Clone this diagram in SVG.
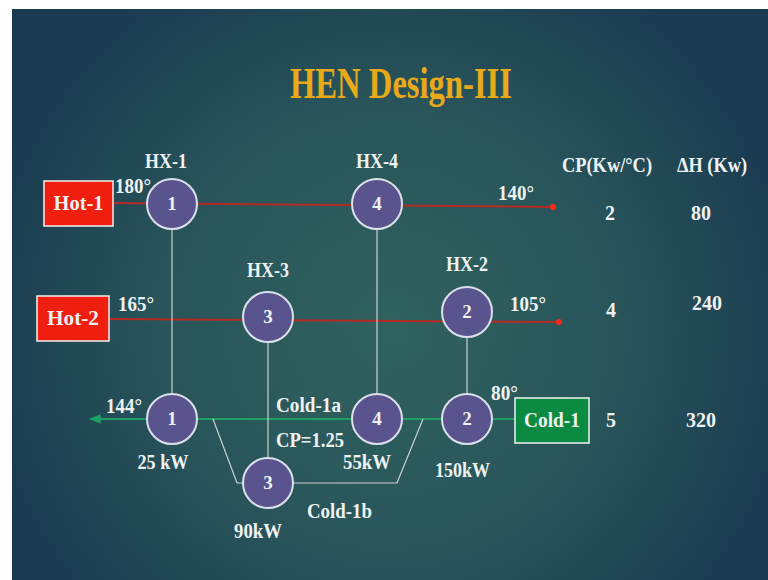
<svg xmlns="http://www.w3.org/2000/svg" width="768" height="580" viewBox="0 0 768 580">
<defs>
<radialGradient id="bg" cx="390" cy="330" r="420" gradientUnits="userSpaceOnUse">
<stop offset="0" stop-color="#30625f"/>
<stop offset="0.55" stop-color="#28545a"/>
<stop offset="1" stop-color="#1a3a50"/>
</radialGradient>
<marker id="arrG" viewBox="0 0 10 10" refX="9" refY="5" markerWidth="6" markerHeight="6" orient="auto">
<path d="M0,1 L10,5 L0,9 z" fill="#1fa060"/>
</marker>
</defs>
<style>
text{font-family:"Liberation Serif","Times New Roman",serif;font-weight:bold;fill:#eef2f2}
.lbl{font-size:20px}
.num{font-size:19px;text-anchor:middle}
.mid{text-anchor:middle}
.hx circle{fill:#59548e;stroke:#dde0ea;stroke-width:2}
.box{stroke:#f2f2f2;stroke-width:1.5}
.hot{stroke:#b52a22;stroke-width:2;fill:none}
.cold{stroke:#1fa060;stroke-width:2;fill:none}
.v{stroke:#c9d2d2;stroke-width:1.2;fill:none}
</style>
<rect x="0" y="0" width="768" height="580" fill="#ffffff"/>
<rect x="12" y="9" width="756" height="571" fill="url(#bg)"/>
<text x="401" y="98" class="mid" style="font-size:44px;fill:#e9aa1a" textLength="222" lengthAdjust="spacingAndGlyphs">HEN Design-III</text>

<g id="connectors">
<line class="hot" x1="113" y1="203" x2="553" y2="207"/>
<circle cx="553" cy="207" r="3" fill="#ff2a1a"/>
<line class="hot" x1="109" y1="319" x2="559" y2="322"/>
<circle cx="559" cy="322" r="3" fill="#ff2a1a"/>
<line class="cold" x1="515" y1="419" x2="90" y2="419" marker-end="url(#arrG)"/>
<polyline class="v" points="213,419 237,483 243,483"/>
<polyline class="v" points="293,483 397,483 423,419"/>
<line class="v" x1="172" y1="230" x2="172" y2="394"/>
<line class="v" x1="377" y1="230" x2="377" y2="394"/>
<line class="v" x1="268" y1="342" x2="268" y2="458"/>
<line class="v" x1="467" y1="338" x2="467" y2="394"/>
</g>

<g id="hot1"><rect class="box" x="44" y="181" width="69" height="45" fill="#f01e0e"/><text x="78.5" y="210" class="mid" style="font-size:20px" textLength="50" lengthAdjust="spacingAndGlyphs">Hot-1</text></g>
<g id="hot2"><rect class="box" x="37" y="296" width="72" height="45" fill="#f01e0e"/><text x="73" y="325" class="mid" style="font-size:20px" textLength="52" lengthAdjust="spacingAndGlyphs">Hot-2</text></g>
<g id="cold1"><rect class="box" x="515" y="398" width="74" height="45" fill="#0b8a42"/><text x="552" y="427" class="mid" style="font-size:20px" textLength="56" lengthAdjust="spacingAndGlyphs">Cold-1</text></g>

<g id="hx1-top" class="hx"><circle cx="172" cy="204" r="25"/><text x="172" y="210" class="num">1</text></g>
<g id="hx4-top" class="hx"><circle cx="377" cy="204" r="25"/><text x="377" y="210" class="num">4</text></g>
<g id="hx3-top" class="hx"><circle cx="268" cy="317" r="25"/><text x="268" y="323" class="num">3</text></g>
<g id="hx2-top" class="hx"><circle cx="467" cy="312" r="25"/><text x="467" y="318" class="num">2</text></g>
<g id="hx1-bot" class="hx"><circle cx="172" cy="419" r="25"/><text x="172" y="425" class="num">1</text></g>
<g id="hx4-bot" class="hx"><circle cx="377" cy="419" r="25"/><text x="377" y="425" class="num">4</text></g>
<g id="hx2-bot" class="hx"><circle cx="467" cy="419" r="25"/><text x="467" y="425" class="num">2</text></g>
<g id="hx3-bot" class="hx"><circle cx="268" cy="483" r="25"/><text x="268" y="489" class="num">3</text></g>

<g id="labels">
<text x="166" y="168" class="lbl mid" textLength="42" lengthAdjust="spacingAndGlyphs">HX-1</text>
<text x="377" y="168" class="lbl mid" textLength="42" lengthAdjust="spacingAndGlyphs">HX-4</text>
<text x="268" y="277" class="lbl mid" textLength="42" lengthAdjust="spacingAndGlyphs">HX-3</text>
<text x="467" y="271" class="lbl mid" textLength="42" lengthAdjust="spacingAndGlyphs">HX-2</text>
<text x="115" y="193" class="lbl" textLength="36" lengthAdjust="spacingAndGlyphs">180°</text>
<text x="498" y="200" class="lbl" textLength="36" lengthAdjust="spacingAndGlyphs">140°</text>
<text x="118" y="311" class="lbl" textLength="36" lengthAdjust="spacingAndGlyphs">165°</text>
<text x="510" y="311" class="lbl" textLength="36" lengthAdjust="spacingAndGlyphs">105°</text>
<text x="106" y="413" class="lbl" textLength="36" lengthAdjust="spacingAndGlyphs">144°</text>
<text x="491" y="400" class="lbl" textLength="27" lengthAdjust="spacingAndGlyphs">80°</text>
<text x="163" y="469" class="lbl mid" textLength="51" lengthAdjust="spacingAndGlyphs">25 kW</text>
<text x="276" y="412" class="lbl" textLength="65" lengthAdjust="spacingAndGlyphs">Cold-1a</text>
<text x="276" y="447" class="lbl" textLength="68" lengthAdjust="spacingAndGlyphs">CP=1.25</text>
<text x="343" y="469" class="lbl" textLength="48" lengthAdjust="spacingAndGlyphs">55kW</text>
<text x="435" y="477" class="lbl" textLength="55" lengthAdjust="spacingAndGlyphs">150kW</text>
<text x="307" y="518" class="lbl" textLength="65" lengthAdjust="spacingAndGlyphs">Cold-1b</text>
<text x="258" y="538" class="lbl mid" textLength="48" lengthAdjust="spacingAndGlyphs">90kW</text>
<text x="562" y="172" class="lbl" textLength="90" lengthAdjust="spacingAndGlyphs">CP(Kw/°C)</text>
<text x="677" y="172" class="lbl" textLength="70" lengthAdjust="spacingAndGlyphs">ΔH (Kw)</text>
<text x="610" y="220" class="lbl mid">2</text>
<text x="701" y="220" class="lbl mid">80</text>
<text x="611" y="317" class="lbl mid">4</text>
<text x="707" y="310" class="lbl mid">240</text>
<text x="611" y="427" class="lbl mid">5</text>
<text x="701" y="427" class="lbl mid">320</text>
</g>
</svg>
